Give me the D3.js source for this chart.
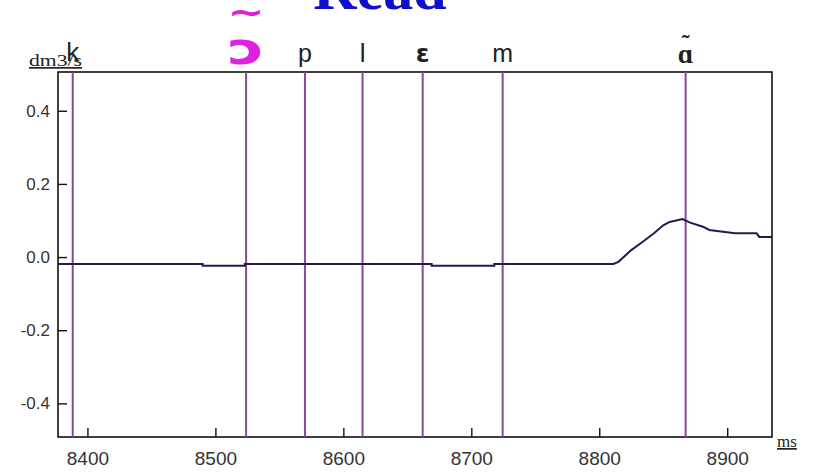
<!DOCTYPE html>
<html>
<head>
<meta charset="utf-8">
<script src="https://cdn.jsdelivr.net/npm/d3@7"></script>
<style>
  html, body { margin: 0; padding: 0; background: #fff; }
  svg { display: block; }
</style>
</head>
<body>
<svg id="chart" width="820" height="476"></svg>
<script>
// Airflow trace (dm3/s) over time (ms)
const timeMs = [8377, 8490, 8490, 8523, 8523, 8669, 8669, 8718, 8718, 8811,
                8815, 8825, 8834, 8843, 8850, 8855, 8865, 8871, 8881, 8886,
                8906, 8923, 8925, 8935];
const flow   = [-0.019, -0.019, -0.024, -0.024, -0.019, -0.019, -0.024, -0.024, -0.019, -0.019,
                -0.013, 0.019, 0.042, 0.066, 0.087, 0.096, 0.104, 0.094, 0.083, 0.074,
                0.065, 0.065, 0.055, 0.055];

// Segment boundaries and their phonetic labels
const segTimes  = [8388.5, 8524, 8570, 8615, 8662, 8724.5, 8867.5];
const segLabels = ["k", "ɔ", "p", "l", "ɛ", "m", "ɑ"];

const xTicks = [8400, 8500, 8600, 8700, 8800, 8900];
const yTicks = [0.4, 0.2, 0.0, -0.2, -0.4];

const svg = d3.select("#chart");
const plotL = 58, plotR = 772, plotT = 72, plotB = 437;

const x = d3.scaleLinear().domain([8377, 8935]).range([plotL, plotR]);
const y = d3.scaleLinear().domain([-0.492, 0.506]).range([plotB, plotT]);

// title, partly above the top edge
svg.append("text")
  .attr("x", 380).attr("y", 9)
  .attr("text-anchor", "middle")
  .attr("font-family", "Liberation Serif, serif")
  .attr("font-weight", "bold")
  .attr("font-size", 60)
  .attr("fill", "#1010c8")
  .text("Read");

// frame
svg.append("rect")
  .attr("x", plotL).attr("y", plotT)
  .attr("width", plotR - plotL).attr("height", plotB - plotT)
  .attr("fill", "none").attr("stroke", "#111").attr("stroke-width", 1.6);

// y axis (plain hyphen for negatives)
const fmtY = d => d3.format(".1f")(d).replace("−", "-");
const yAxis = svg.append("g")
  .attr("transform", `translate(${plotL},0)`)
  .call(d3.axisLeft(y).tickValues(yTicks).tickFormat(fmtY)
    .tickSize(-9).tickPadding(8));
yAxis.select(".domain").remove();
yAxis.selectAll(".tick text").attr("font-size", 17);

// x axis
const xAxis = svg.append("g")
  .attr("transform", `translate(0,${plotB})`)
  .call(d3.axisBottom(x).tickValues(xTicks).tickFormat(d3.format("d"))
    .tickSize(-9).tickPadding(15));
xAxis.select(".domain").remove();
xAxis.selectAll(".tick text").attr("font-size", 19);

svg.selectAll(".tick line").attr("stroke", "#111").attr("stroke-width", 1.4);
svg.selectAll(".tick text")
  .attr("font-family", "Liberation Sans, Arial, sans-serif")
  .attr("fill", "#333");

// unit labels
svg.append("text")
  .attr("x", 29).attr("y", 66)
  .attr("font-family", "Liberation Serif, serif")
  .attr("font-size", 17)
  .attr("textLength", 53).attr("lengthAdjust", "spacingAndGlyphs")
  .attr("text-decoration", "underline")
  .attr("fill", "#222")
  .text("dm3/s");
svg.append("text")
  .attr("x", 777).attr("y", 447)
  .attr("font-family", "Liberation Serif, serif")
  .attr("font-size", 17)
  .attr("text-decoration", "underline")
  .attr("fill", "#222")
  .text("ms");

// segment boundary lines
svg.append("g").selectAll("line")
  .data(segTimes)
  .join("line")
  .attr("x1", d => x(d)).attr("x2", d => x(d))
  .attr("y1", plotT).attr("y2", plotB)
  .attr("stroke", "#844a96").attr("stroke-width", 2);

// airflow curve
const pts = timeMs.map((t, i) => [t, flow[i]]);
svg.append("path")
  .datum(pts)
  .attr("fill", "none")
  .attr("stroke", "#1c1c52")
  .attr("stroke-width", 2)
  .attr("d", d3.line().x(d => x(d[0])).y(d => y(d[1])));

// phonetic labels
const labelStyle = [
  { size: 26, weight: "normal", family: "Liberation Sans, sans-serif", fill: "#222", y: 61, sx: 1 },
  { size: 44, weight: "bold", family: "DejaVu Sans, sans-serif", fill: "#e020e0", y: 64, sx: 1.4 },
  { size: 25, weight: "normal", family: "Liberation Sans, sans-serif", fill: "#222", y: 62, sx: 1 },
  { size: 26, weight: "normal", family: "Liberation Sans, sans-serif", fill: "#222", y: 62, sx: 1 },
  { size: 25, weight: "bold", family: "DejaVu Sans, sans-serif", fill: "#222", y: 62, sx: 1 },
  { size: 25, weight: "normal", family: "Liberation Sans, sans-serif", fill: "#222", y: 62, sx: 1 },
  { size: 27, weight: "bold", family: "Liberation Serif, serif", fill: "#222", y: 63, sx: 1 }
];
svg.append("g").selectAll("text")
  .data(segLabels)
  .join("text")
  .attr("transform", (d, i) => `translate(${x(segTimes[i])},${labelStyle[i].y}) scale(${labelStyle[i].sx},1)`)
  .attr("text-anchor", "middle")
  .attr("font-family", (d, i) => labelStyle[i].family)
  .attr("font-weight", (d, i) => labelStyle[i].weight)
  .attr("font-size", (d, i) => labelStyle[i].size)
  .attr("fill", (d, i) => labelStyle[i].fill)
  .text(d => d);

// nasal tildes over ɔ and ɑ
svg.append("text")
  .attr("transform", `translate(${x(segTimes[1])},24) scale(1.3,1)`)
  .attr("text-anchor", "middle")
  .attr("font-family", "DejaVu Sans, sans-serif")
  .attr("font-weight", "bold")
  .attr("font-size", 34)
  .attr("fill", "#e020e0")
  .text("~");
svg.append("text")
  .attr("x", x(segTimes[6])).attr("y", 51)
  .attr("text-anchor", "middle")
  .attr("font-family", "Liberation Serif, serif")
  .attr("font-weight", "bold")
  .attr("font-size", 24)
  .attr("fill", "#222")
  .text("˜");
</script>
</body>
</html>
